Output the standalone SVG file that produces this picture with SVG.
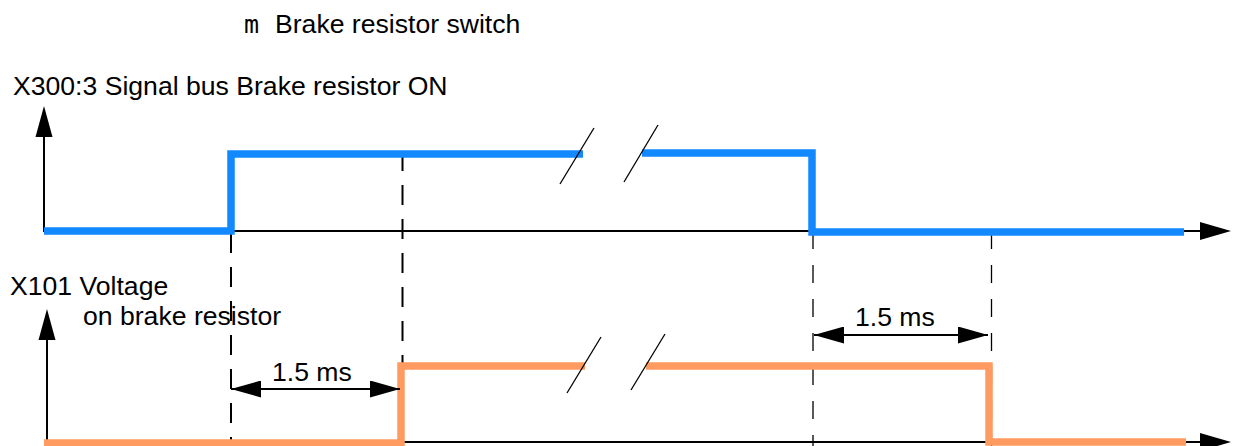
<svg xmlns="http://www.w3.org/2000/svg" width="1233" height="446" viewBox="0 0 1233 446">
<style>
text{font-family:"Liberation Sans",Arial,sans-serif;font-size:26.6px;fill:#000}
.mono{font-family:"DejaVu Sans Mono",monospace;font-size:25px}
.axis{stroke:#000;stroke-width:2;fill:none}
.dash{stroke:#000;stroke-width:2;stroke-dasharray:20 14;fill:none}
.dash1{stroke:#000;stroke-width:1.3;stroke-dasharray:18 16;fill:none}
.blue{stroke:#1289FF;stroke-width:7.5;fill:none}
.orange{stroke:#FF9A60;stroke-width:7.5;fill:none}
.brk{stroke:#000;stroke-width:1.3;fill:none}
.dim{stroke:#000;stroke-width:2;fill:none;marker-start:url(#ah);marker-end:url(#ah)}
</style>
<defs>
<marker id="ah" viewBox="0 0 30 17" refX="30" refY="8.5" markerWidth="30" markerHeight="17" markerUnits="userSpaceOnUse" orient="auto-start-reverse">
<path d="M0,0 L30,8.5 L0,17 Z" fill="#000"/>
</marker>
</defs>
<g id="labels">
<text class="mono" x="244" y="33">m</text>
<text x="275" y="33">Brake resistor switch</text>
<text x="13" y="95">X300:3 Signal bus Brake resistor ON</text>
<text x="10" y="295">X101 Voltage</text>
<text x="83" y="325">on brake resistor</text>
</g>
<g id="axes">
<line class="axis" x1="44" y1="232" x2="44" y2="135"/>
<path d="M44,106 L52.5,137 L35.5,137 Z" fill="#000"/>
<line class="axis" x1="44" y1="231" x2="1202" y2="231"/>
<path d="M1231,231 L1200,222 L1200,240 Z" fill="#000"/>
<line class="axis" x1="47" y1="446" x2="47" y2="338"/>
<path d="M47,309 L55.5,340 L38.5,340 Z" fill="#000"/>
<line class="axis" x1="47" y1="442" x2="1202" y2="442"/>
<path d="M1231,442 L1200,433 L1200,451 Z" fill="#000"/>
</g>
<g id="connectors">
<line class="dash" x1="231" y1="199" x2="231" y2="446"/>
<line class="dash" x1="402.5" y1="151" x2="402.5" y2="446"/>
<line class="dash1" x1="813" y1="231" x2="813" y2="446"/>
<line class="dash1" x1="991.5" y1="231" x2="991.5" y2="446"/>
</g>
<g id="signal-blue">
<polyline class="blue" points="44,231 231,231 231,154 583,154"/>
<polyline class="blue" points="642,153 812,153 812,232 1184,232"/>
<line class="brk" x1="560" y1="184" x2="594" y2="128"/>
<line class="brk" x1="624" y1="182" x2="658" y2="125"/>
</g>
<g id="signal-orange">
<polyline class="orange" points="44,443 401,443 401,366 585,366"/>
<polyline class="orange" points="646,366 989,366 989,442 1186,442"/>
<line class="brk" x1="567" y1="393" x2="601" y2="337"/>
<line class="brk" x1="631" y1="390" x2="665" y2="334"/>
</g>
<g id="dim-left">
<line class="dim" x1="231" y1="389" x2="400" y2="389"/>
<text x="272" y="381">1.5 ms</text>
</g>
<g id="dim-right">
<line class="dim" x1="814" y1="335" x2="988" y2="335"/>
<text x="855" y="326">1.5 ms</text>
</g>
</svg>
